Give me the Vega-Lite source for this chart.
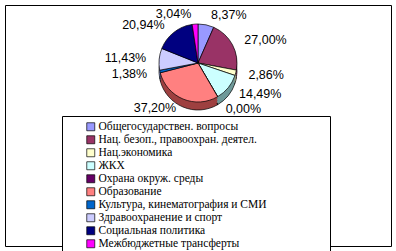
{
  "$schema": "https://vega.github.io/schema/vega-lite/v6.json",
  "width": 396,
  "height": 251,
  "autosize": {"type": "fit", "contains": "padding"},
  "padding": 5,
  "background": "white",
  "config": {"view": {"stroke": "black", "strokeWidth": 1}},
  "data": {"values": [
    {"i": 1, "cat": "Общегосударствен. вопросы", "v": 8.37, "label": "8,37%"},
    {"i": 2, "cat": "Нац. безоп., правоохран. деятел.", "v": 27.00, "label": "27,00%"},
    {"i": 3, "cat": "Нац.экономика", "v": 2.86, "label": "2,86%"},
    {"i": 4, "cat": "ЖКХ", "v": 14.49, "label": "14,49%"},
    {"i": 5, "cat": "Охрана окруж. среды", "v": 0.00, "label": "0,00%"},
    {"i": 6, "cat": "Образование", "v": 37.20, "label": "37,20%"},
    {"i": 7, "cat": "Культура, кинематография и СМИ", "v": 1.38, "label": "1,38%"},
    {"i": 8, "cat": "Здравоохранение и спорт", "v": 11.43, "label": "11,43%"},
    {"i": 9, "cat": "Социальная политика", "v": 20.94, "label": "20,94%"},
    {"i": 10, "cat": "Межбюджетные трансферты", "v": 3.04, "label": "3,04%"}
  ]},
  "encoding": {
    "theta": {"field": "v", "type": "quantitative", "stack": true},
    "order": {"field": "i", "type": "quantitative"}
  },
  "layer": [
    {
      "mark": {"type": "arc", "radius": 39, "stroke": "black", "strokeWidth": 0.7},
      "encoding": {
        "y": {"value": 66},
        "color": {"field": "cat", "type": "nominal", "legend": null,
          "scale": {"domain": ["Общегосударствен. вопросы", "Нац. безоп., правоохран. деятел.", "Нац.экономика", "ЖКХ", "Охрана окруж. среды", "Образование", "Культура, кинематография и СМИ", "Здравоохранение и спорт", "Социальная политика", "Межбюджетные трансферты"],
            "range": ["#5C5C99", "#5C1F3D", "#999979", "#6E9999", "#3D003D", "#9E4040", "#003D7A", "#7A7A99", "#00004D", "#990099"]}}
      }
    },
    {
      "mark": {"type": "arc", "radius": 39},
      "encoding": {
        "y": {"value": 64},
        "color": {"field": "cat", "type": "nominal", "legend": null,
          "scale": {"domain": ["Общегосударствен. вопросы", "Нац. безоп., правоохран. деятел.", "Нац.экономика", "ЖКХ", "Охрана окруж. среды", "Образование", "Культура, кинематография и СМИ", "Здравоохранение и спорт", "Социальная политика", "Межбюджетные трансферты"],
            "range": ["#5C5C99", "#5C1F3D", "#999979", "#6E9999", "#3D003D", "#9E4040", "#003D7A", "#7A7A99", "#00004D", "#990099"]}}
      }
    },
    {
      "mark": {"type": "arc", "radius": 39},
      "encoding": {
        "y": {"value": 62},
        "color": {"field": "cat", "type": "nominal", "legend": null,
          "scale": {"domain": ["Общегосударствен. вопросы", "Нац. безоп., правоохран. деятел.", "Нац.экономика", "ЖКХ", "Охрана окруж. среды", "Образование", "Культура, кинематография и СМИ", "Здравоохранение и спорт", "Социальная политика", "Межбюджетные трансферты"],
            "range": ["#5C5C99", "#5C1F3D", "#999979", "#6E9999", "#3D003D", "#9E4040", "#003D7A", "#7A7A99", "#00004D", "#990099"]}}
      }
    },
    {
      "mark": {"type": "arc", "radius": 39},
      "encoding": {
        "y": {"value": 60},
        "color": {"field": "cat", "type": "nominal", "legend": null,
          "scale": {"domain": ["Общегосударствен. вопросы", "Нац. безоп., правоохран. деятел.", "Нац.экономика", "ЖКХ", "Охрана окруж. среды", "Образование", "Культура, кинематография и СМИ", "Здравоохранение и спорт", "Социальная политика", "Межбюджетные трансферты"],
            "range": ["#5C5C99", "#5C1F3D", "#999979", "#6E9999", "#3D003D", "#9E4040", "#003D7A", "#7A7A99", "#00004D", "#990099"]}}
      }
    },
    {
      "mark": {"type": "arc", "radius": 39, "stroke": "black", "strokeWidth": 0.7},
      "encoding": {
        "y": {"value": 58},
        "color": {"field": "cat", "type": "nominal",
          "scale": {"domain": ["Общегосударствен. вопросы", "Нац. безоп., правоохран. деятел.", "Нац.экономика", "ЖКХ", "Охрана окруж. среды", "Образование", "Культура, кинематография и СМИ", "Здравоохранение и спорт", "Социальная политика", "Межбюджетные трансферты"],
            "range": ["#9999FF", "#993366", "#FFFFCC", "#CCFFFF", "#660066", "#FF8080", "#0066CC", "#CCCCFF", "#000080", "#FF00FF"]},
          "legend": {
            "title": "\u00a0", "titleOrient": "right", "titlePadding": 58, "titleFontSize": 8,
            "orient": "none", "legendX": 57, "legendY": 111,
            "symbolType": "square", "symbolSize": 64, "symbolStrokeColor": "black", "symbolStrokeWidth": 0.7,
            "symbolOffset": 18, "labelOffset": 2,
            "labelFont": "Liberation Serif", "labelFontSize": 11.5, "labelColor": "black", "labelLimit": 400,
            "rowPadding": 0, "padding": 5, "strokeColor": "black", "fillColor": "white"
          }
        }
      }
    },
    {
      "mark": {"type": "text", "radius": 49, "font": "Liberation Sans", "fontSize": 12.5, "fill": "black",
        "align": {"expr": "datum.i <= 5 ? 'left' : 'right'"},
        "dx": {"expr": "datum.i <= 5 ? 3 : -3"},
        "dy": {"expr": "datum.v == 0 ? 4 : 0"}},
      "encoding": {
        "y": {"value": 58},
        "text": {"field": "label", "type": "nominal"}
      }
    }
  ],
  "resolve": {"scale": {"color": "independent"}}
}
